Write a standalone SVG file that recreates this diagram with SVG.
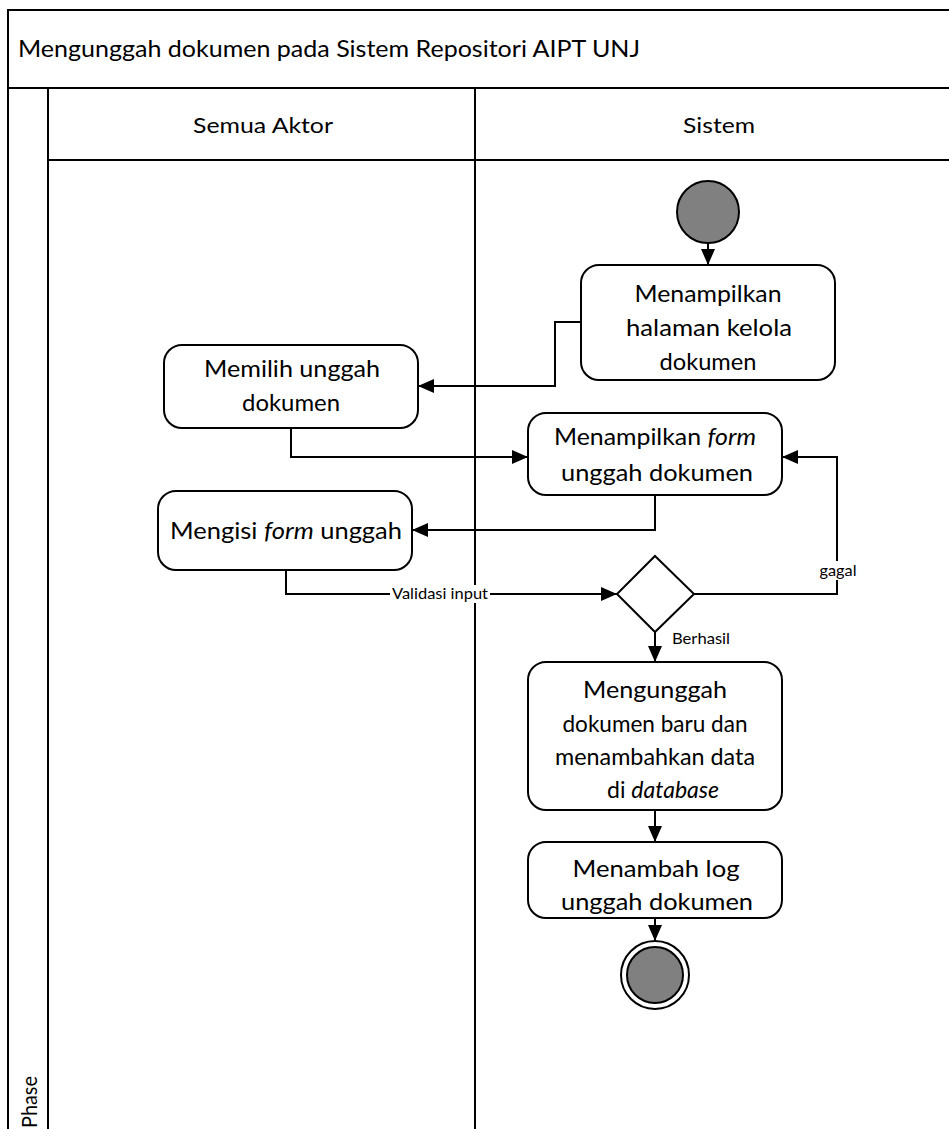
<svg xmlns="http://www.w3.org/2000/svg" width="949" height="1129" viewBox="0 0 949 1129">
  <style>
    .lane { fill: none; stroke: #000; stroke-width: 2; }
    .box { fill: #fff; stroke: #000; stroke-width: 2; }
    .flow { fill: none; stroke: #000; stroke-width: 2; }
    .dot { fill: #808080; stroke: #000; stroke-width: 2; }
    text { font-family: Lato, "Liberation Sans", Arial, sans-serif; fill: #000; }
    .t { font-size: 23px; text-anchor: middle; }
    .h { font-size: 21px; }
    .title { font-size: 24px; }
    .lbl { font-size: 15px; }
    .it { font-style: italic; }
  </style>
  <defs>
    <marker id="arrB" viewBox="0 0 16 14" refX="16" refY="7" markerWidth="16" markerHeight="14" markerUnits="userSpaceOnUse" orient="auto">
      <path d="M0,0 L16,7 L0,14 Z" fill="#000"/>
    </marker>
  </defs>

  <!-- swimlane frame -->
  <g id="pool">
    <rect class="lane" x="8" y="10" width="960" height="1140"/>
    <line class="lane" x1="8" y1="88" x2="960" y2="88"/>
    <line class="lane" x1="48" y1="88" x2="48" y2="1150"/>
    <line class="lane" x1="48" y1="160" x2="960" y2="160"/>
    <line class="lane" x1="475" y1="88" x2="475" y2="1150"/>
    <text class="title" x="18" y="57" textLength="622" lengthAdjust="spacingAndGlyphs">Mengunggah dokumen pada Sistem Repositori AIPT UNJ</text>
    <text class="h" x="263" y="133" text-anchor="middle" textLength="140" lengthAdjust="spacingAndGlyphs">Semua Aktor</text>
    <text class="h" x="719" y="133" text-anchor="middle" textLength="72" lengthAdjust="spacingAndGlyphs">Sistem</text>
    <text class="h" transform="translate(37,1128) rotate(-90)" x="0" y="0" textLength="52" lengthAdjust="spacingAndGlyphs">Phase</text>
  </g>

  <!-- connectors -->
  <g id="connectors">
    <path class="flow" d="M708,243 L708,265" marker-end="url(#arrB)"/>
    <path class="flow" d="M581,322 L555,322 L555,386 L418,386" marker-end="url(#arrB)"/>
    <path class="flow" d="M291,428 L291,457 L528,457" marker-end="url(#arrB)"/>
    <path class="flow" d="M655,495 L655,530 L412,530" marker-end="url(#arrB)"/>
    <path class="flow" d="M286,570 L286,594 L617,594" marker-end="url(#arrB)"/>
    <path class="flow" d="M694,594 L837,594 L837,457 L782,457" marker-end="url(#arrB)"/>
    <path class="flow" d="M655,632 L655,662" marker-end="url(#arrB)"/>
    <path class="flow" d="M655,810 L655,842" marker-end="url(#arrB)"/>
    <path class="flow" d="M655,918 L655,941" marker-end="url(#arrB)"/>
    <rect x="390" y="585" width="100" height="18" fill="#fff"/>
    <text class="lbl" x="440" y="599" text-anchor="middle" textLength="96" lengthAdjust="spacingAndGlyphs">Validasi input</text>
    <rect x="818" y="561" width="40" height="19" fill="#fff"/>
    <text class="lbl" x="838" y="576" text-anchor="middle" textLength="37" lengthAdjust="spacingAndGlyphs">gagal</text>
    <text class="lbl" x="672" y="644" textLength="58" lengthAdjust="spacingAndGlyphs">Berhasil</text>
  </g>

  <g id="start">
    <circle class="dot" cx="708" cy="212" r="31"/>
  </g>

  <g id="tampil-halaman">
    <rect class="box" x="581" y="265" width="254" height="115" rx="18"/>
    <text class="t" x="708" y="302" textLength="147" lengthAdjust="spacingAndGlyphs">Menampilkan</text>
    <text class="t" x="709" y="336" textLength="166" lengthAdjust="spacingAndGlyphs">halaman kelola</text>
    <text class="t" x="708" y="370" textLength="97" lengthAdjust="spacingAndGlyphs">dokumen</text>
  </g>

  <g id="pilih-unggah">
    <rect class="box" x="164" y="345" width="254" height="83" rx="18"/>
    <text class="t" x="292" y="377" textLength="176" lengthAdjust="spacingAndGlyphs">Memilih unggah</text>
    <text class="t" x="291" y="411" textLength="98" lengthAdjust="spacingAndGlyphs">dokumen</text>
  </g>

  <g id="tampil-form">
    <rect class="box" x="528" y="413" width="254" height="82" rx="18"/>
    <text class="t" x="655" y="445" textLength="202" lengthAdjust="spacingAndGlyphs">Menampilkan <tspan class="it">form</tspan></text>
    <text class="t" x="657" y="481" textLength="192" lengthAdjust="spacingAndGlyphs">unggah dokumen</text>
  </g>

  <g id="isi-form">
    <rect class="box" x="158" y="491" width="254" height="79" rx="18"/>
    <text class="t" x="286" y="539" textLength="232" lengthAdjust="spacingAndGlyphs">Mengisi <tspan class="it">form</tspan> unggah</text>
  </g>

  <g id="validasi">
    <path class="box" d="M655,556 L694,594 L655,632 L617,594 Z"/>
  </g>

  <g id="unggah-dokumen">
    <rect class="box" x="528" y="662" width="254" height="148" rx="18"/>
    <text class="t" x="655" y="698" textLength="144" lengthAdjust="spacingAndGlyphs">Mengunggah</text>
    <text class="t" x="655" y="732" textLength="185" lengthAdjust="spacingAndGlyphs">dokumen baru dan</text>
    <text class="t" x="655" y="765" textLength="200" lengthAdjust="spacingAndGlyphs">menambahkan data</text>
    <text class="t" x="663" y="798" textLength="112" lengthAdjust="spacingAndGlyphs">di <tspan class="it">database</tspan></text>
  </g>

  <g id="tambah-log">
    <rect class="box" x="528" y="842" width="254" height="76" rx="18"/>
    <text class="t" x="656" y="877" textLength="167" lengthAdjust="spacingAndGlyphs">Menambah log</text>
    <text class="t" x="657" y="910" textLength="192" lengthAdjust="spacingAndGlyphs">unggah dokumen</text>
  </g>

  <g id="end">
    <circle cx="655" cy="975" r="34" fill="#fff" stroke="#000" stroke-width="2"/>
    <circle class="dot" cx="655" cy="975" r="28"/>
  </g>
</svg>
